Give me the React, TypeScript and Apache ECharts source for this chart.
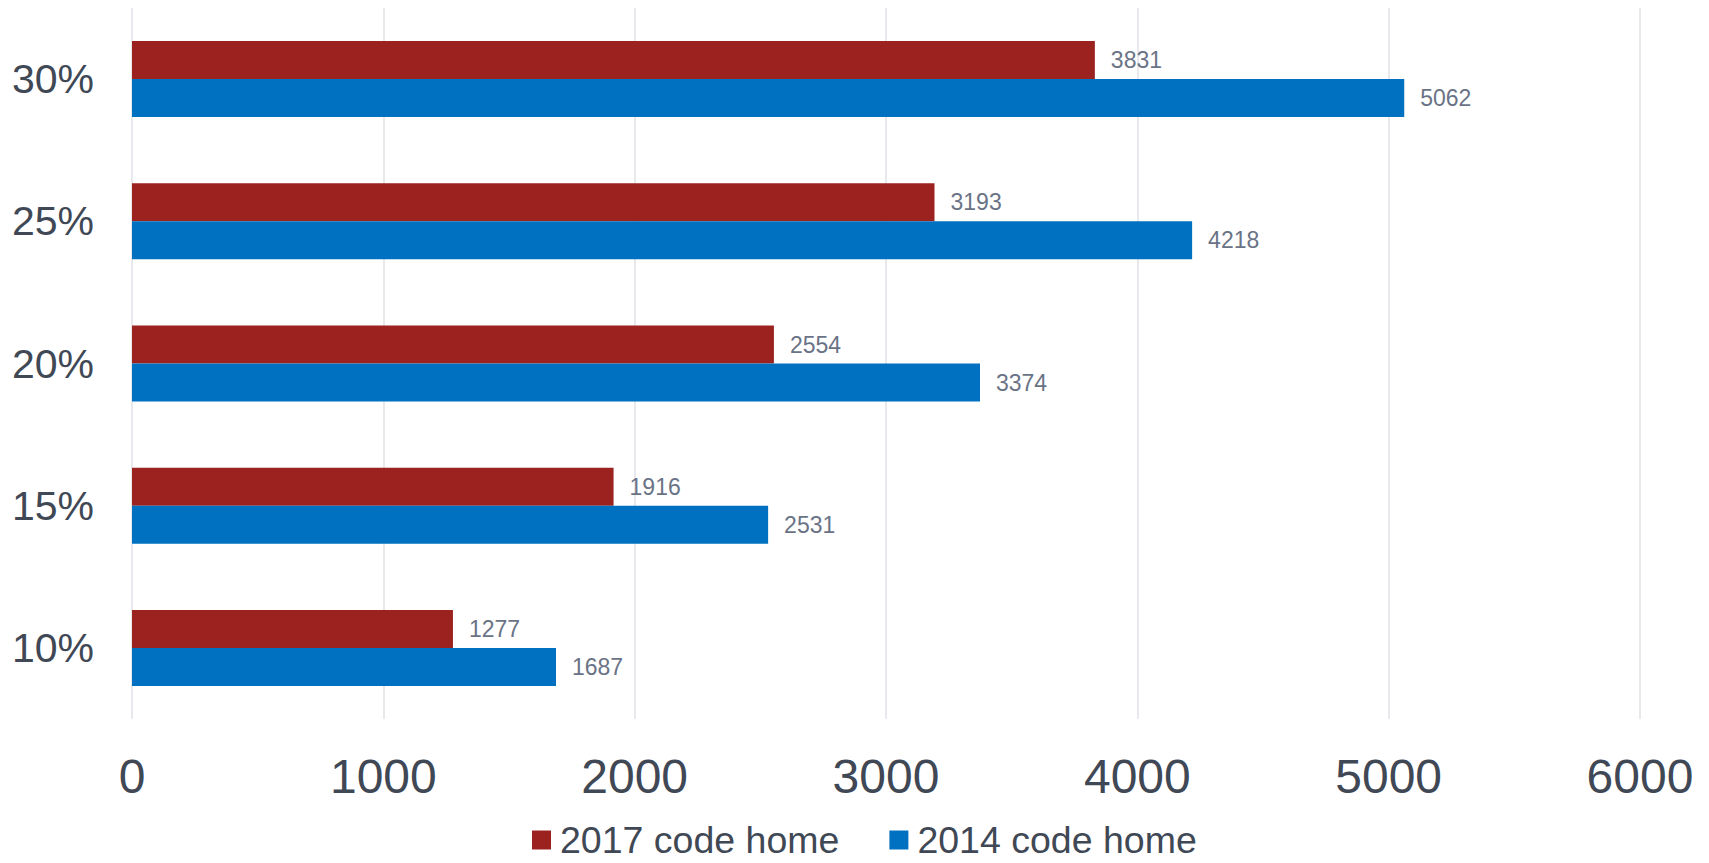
import React, { useEffect, useRef } from "react";
import * as echarts from "echarts";

const categories = ["10%", "15%", "20%", "25%", "30%"];
const series2017 = [1277, 1916, 2554, 3193, 3831];
const series2014 = [1687, 2531, 3374, 4218, 5062];
const seriesNames = ["2017 code home", "2014 code home"];
const xTicks = { min: 0, max: 6000, interval: 1000 };

const FONT = "'Liberation Sans', Arial, sans-serif";

export default function App() {
  const ref = useRef<HTMLDivElement>(null);
  useEffect(() => {
    if (!ref.current) return;
    const chart = echarts.init(ref.current, null, { renderer: "svg" });
    const labelCfg = {
      show: true,
      position: "right",
      distance: 16,
      color: "#6a7386",
      fontSize: 23,
      fontFamily: FONT,
    };
    chart.setOption({
      animation: false,
      backgroundColor: "#ffffff",
      grid: { left: 132, right: 69, top: 8, bottom: 144, containLabel: false },
      legend: {
        left: 532,
        top: 821,
        padding: 0,
        itemWidth: 19,
        itemHeight: 19,
        itemGap: 50,
        icon: "rect",
        textStyle: {
          color: "#404855",
          fontSize: 37.5,
          lineHeight: 36,
          fontFamily: FONT,
          padding: [0, 0, 0, 4],
        },
        data: seriesNames,
      },
      xAxis: {
        type: "value",
        min: xTicks.min,
        max: xTicks.max,
        interval: xTicks.interval,
        axisLine: { show: false },
        axisTick: { show: false },
        splitLine: { show: true, lineStyle: { color: "#e0e2e7", width: 1.5 } },
        axisLabel: {
          color: "#404855",
          fontSize: 48,
          fontFamily: FONT,
          margin: 33,
          formatter: (v: number) => String(v),
        },
      },
      yAxis: {
        type: "category",
        data: categories,
        axisLine: { show: false },
        axisTick: { show: false },
        splitLine: { show: false },
        axisLabel: {
          color: "#404855",
          fontSize: 41,
          fontFamily: FONT,
          margin: 38,
        },
      },
      series: [
        {
          name: seriesNames[0],
          type: "bar",
          data: series2017,
          barWidth: 38,
          barGap: "0%",
          itemStyle: { color: "#9c2220" },
          label: labelCfg,
        },
        {
          name: seriesNames[1],
          type: "bar",
          data: series2014,
          barWidth: 38,
          barGap: "0%",
          itemStyle: { color: "#0070c0" },
          label: labelCfg,
        },
      ],
    });
    return () => chart.dispose();
  }, []);
  return (
    <div
      ref={ref}
      style={{ position: "fixed", left: 0, top: 0, width: 1709, height: 863 }}
    />
  );
}
